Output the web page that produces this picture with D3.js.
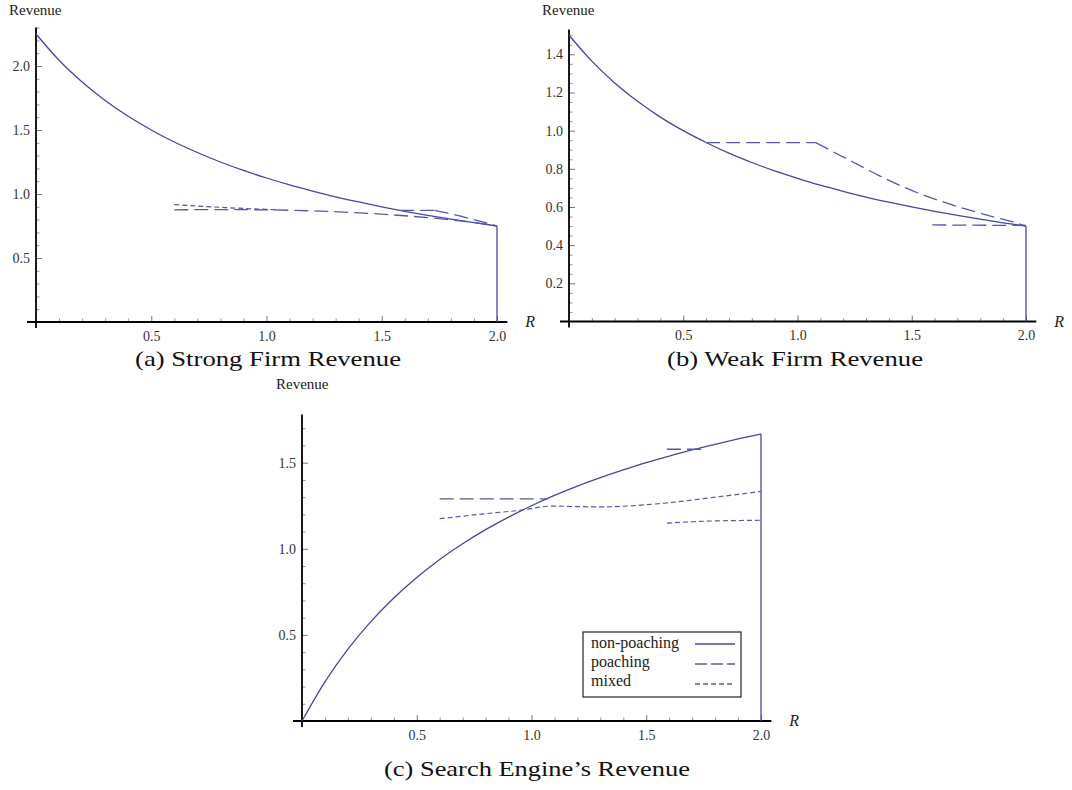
<!DOCTYPE html>
<html>
<head>
<meta charset="utf-8">
<script src="https://cdn.jsdelivr.net/npm/d3@7"></script>
<style>
  body { margin: 0; background: #fff; }
  svg { display: block; }
  text { font-family: "Liberation Serif", "Times New Roman", serif; }
</style>
</head>
<body>
<svg id="fig" width="1072" height="790"></svg>
<script>
// ---- values ----------------------------------------------------------
// R grid for the non-poaching equilibrium curves
const rGrid = [0, 0.1, 0.2, 0.3, 0.4, 0.5, 0.6, 0.7, 0.8, 0.9, 1.0,
               1.1, 1.2, 1.3, 1.4, 1.5, 1.6, 1.7, 1.8, 1.9, 2.0];

// (a) strong firm
const strongNonPoaching = [2.250, 2.045, 1.875, 1.731, 1.607, 1.500, 1.406, 1.324, 1.250, 1.184, 1.125,
                           1.071, 1.023, 0.978, 0.938, 0.900, 0.865, 0.833, 0.804, 0.776, 0.750];
const strongPoachingLow = [[0.6, 0.876], [0.8, 0.878], [1.0, 0.876], [1.2, 0.868], [1.4, 0.853],
                           [1.6, 0.830], [1.8, 0.798], [1.9, 0.778], [2.0, 0.750]];
const strongPoachingFlat = [[1.58, 0.872], [1.73, 0.872]];
const strongPoachingFall = [[1.73, 0.872], [1.8, 0.845], [1.9, 0.800], [2.0, 0.750]];
const strongMixed = [[0.6, 0.917], [0.7, 0.906], [0.8, 0.896], [0.9, 0.887], [1.0, 0.880], [1.05, 0.877]];

// (b) weak firm
const weakNonPoaching = [1.500, 1.364, 1.250, 1.154, 1.071, 1.000, 0.938, 0.882, 0.833, 0.789, 0.750,
                         0.714, 0.682, 0.652, 0.625, 0.600, 0.577, 0.556, 0.536, 0.517, 0.500];
const weakPoachingFlat = [[0.6, 0.937], [1.08, 0.937]];
const weakPoachingFall = [[1.08, 0.937], [1.24, 0.837], [1.39, 0.745], [1.53, 0.672],
                          [1.68, 0.610], [1.83, 0.557], [1.98, 0.508], [2.0, 0.500]];
const weakPoachingLow = [[1.59, 0.506], [2.0, 0.503]];

// (c) search engine
const engineNonPoaching = [0.000, 0.227, 0.417, 0.577, 0.714, 0.833, 0.938, 1.029, 1.111, 1.184, 1.250,
                           1.310, 1.364, 1.413, 1.458, 1.500, 1.538, 1.574, 1.607, 1.638, 1.667];
const enginePoachingFlat = [[0.6, 1.29], [1.07, 1.29]];
const enginePoachingHigh = [[1.59, 1.578], [1.74, 1.578]];
const engineMixed = [[0.6, 1.175], [0.8, 1.204], [1.0, 1.233], [1.05, 1.245], [1.1, 1.248],
                     [1.2, 1.245], [1.3, 1.243], [1.4, 1.247], [1.5, 1.256], [1.6, 1.268],
                     [1.7, 1.283], [1.8, 1.300], [1.9, 1.316], [2.0, 1.333]];
const engineMixedLow = [[1.59, 1.149], [1.7, 1.157], [1.8, 1.162], [1.9, 1.164], [2.0, 1.166]];

// tick values
const xMajorTicks = [0.5, 1.0, 1.5, 2.0];
const yMajorTicksA = [0.5, 1.0, 1.5, 2.0];
const yMajorTicksB = [0.2, 0.4, 0.6, 0.8, 1.0, 1.2, 1.4];
const yMajorTicksC = [0.5, 1.0, 1.5];

const legendLabels = ["non-poaching", "poaching", "mixed"];
const captions = ["(a) Strong Firm Revenue", "(b) Weak Firm Revenue", "(c) Search Engine\u2019s Revenue"];

// ---- styles ----------------------------------------------------------
const LINE = "#4646a0";
const DASH_LINE = "#5656ac";
const STYLE = {
  solid:    { stroke: LINE, width: 1.3, dash: null },
  poaching: { stroke: DASH_LINE, width: 1.3, dash: "14,6" },
  mixed:    { stroke: DASH_LINE, width: 1.2, dash: "5,3" }
};

const svg = d3.select("#fig");

function range(a, b, step) {
  const out = [];
  for (let v = a; v <= b + 1e-9; v += step) out.push(Math.round(v * 1000) / 1000);
  return out;
}

function makePanel(cfg) {
  const x = d3.scaleLinear().domain([0, 2]).range([cfg.x0, cfg.x2]);
  const y = d3.scaleLinear().domain([0, cfg.yRef]).range([cfg.yBase, cfg.yRefPx]);
  const g = svg.append("g");

  // minor ticks (unlabelled), pointing into the plot
  const xMinor = range(0.1, 2.0, 0.1).filter(v => !xMajorTicks.some(m => Math.abs(m - v) < 1e-6));
  g.append("g").attr("transform", `translate(0,${cfg.yBase})`)
    .call(d3.axisBottom(x).tickValues(xMinor).tickSize(-3.5).tickFormat(""))
    .call(s => s.select(".domain").remove())
    .call(s => s.selectAll("line").attr("stroke", "#777").attr("stroke-width", 0.8));
  g.append("g").attr("transform", `translate(0,${cfg.yBase})`)
    .call(d3.axisBottom(x).tickValues(xMajorTicks).tickSize(-6).tickPadding(9).tickFormat(d3.format(".1f")))
    .call(s => s.select(".domain").remove())
    .call(s => s.selectAll("line").attr("stroke", "#666").attr("stroke-width", 0.9))
    .call(s => s.selectAll("text").attr("font-size", 14).attr("fill", "#333"));

  const yMinor = range(cfg.yMinorStep, cfg.yTop, cfg.yMinorStep).filter(v => !cfg.yMajor.some(m => Math.abs(m - v) < 1e-6));
  g.append("g").attr("transform", `translate(${cfg.x0},0)`)
    .call(d3.axisLeft(y).tickValues(yMinor).tickSize(-3.5).tickFormat(""))
    .call(s => s.select(".domain").remove())
    .call(s => s.selectAll("line").attr("stroke", "#777").attr("stroke-width", 0.8));
  g.append("g").attr("transform", `translate(${cfg.x0},0)`)
    .call(d3.axisLeft(y).tickValues(cfg.yMajor).tickSize(-6).tickPadding(6).tickFormat(d3.format(".1f")))
    .call(s => s.select(".domain").remove())
    .call(s => s.selectAll("line").attr("stroke", "#666").attr("stroke-width", 0.9))
    .call(s => s.selectAll("text").attr("font-size", 14).attr("fill", "#333"));

  // axis lines
  g.append("line").attr("x1", cfg.x0 - 9).attr("x2", x(2.045))
    .attr("y1", cfg.yBase).attr("y2", cfg.yBase).attr("stroke", "#000").attr("stroke-width", 1.8);
  g.append("line").attr("x1", cfg.x0).attr("x2", cfg.x0)
    .attr("y1", y(cfg.yTop)).attr("y2", cfg.yBase + 6).attr("stroke", "#000").attr("stroke-width", 1.8);

  // axis names
  g.append("text").attr("x", cfg.revX).attr("y", cfg.revY).attr("font-size", 15).attr("fill", "#222")
    .text("Revenue");
  g.append("text").attr("x", x(2.045) + 18).attr("y", cfg.yBase + 5).attr("font-size", 16)
    .attr("font-style", "italic").attr("fill", "#222").text("R");

  // caption
  g.append("text").attr("x", cfg.capX).attr("y", cfg.capY).attr("text-anchor", "middle")
    .attr("font-size", 22).attr("fill", "#111")
    .attr("textLength", cfg.capW).attr("lengthAdjust", "spacingAndGlyphs")
    .text(cfg.caption);

  return { g, x, y };
}

function drawSeries(p, pts, style) {
  const line = d3.line().x(d => p.x(d[0])).y(d => p.y(d[1])).curve(d3.curveMonotoneX);
  const path = p.g.append("path").attr("d", line(pts)).attr("fill", "none")
    .attr("stroke", style.stroke).attr("stroke-width", style.width);
  if (style.dash) path.attr("stroke-dasharray", style.dash);
}

function drawNonPoaching(p, values) {
  const pts = rGrid.map((r, i) => [r, values[i]]);
  drawSeries(p, pts, STYLE.solid);
  // the curve ends at R = 2 and drops to zero
  const last = pts[pts.length - 1];
  const drop = d3.line().x(d => p.x(d[0])).y(d => p.y(d[1]));
  p.g.append("path").attr("d", drop([last, [last[0], 0]])).attr("fill", "none")
    .attr("stroke", LINE).attr("stroke-width", 1.3);
}

// ---- panel (a) ----
const pa = makePanel({
  x0: 36, x2: 497, yBase: 322, yRef: 2.0, yRefPx: 66, yTop: 2.3, yMinorStep: 0.1,
  yMajor: yMajorTicksA, revX: 9, revY: 15, capX: 268, capY: 366, capW: 266, caption: captions[0]
});
drawNonPoaching(pa, strongNonPoaching);
drawSeries(pa, strongPoachingLow, STYLE.poaching);
drawSeries(pa, strongPoachingFlat, STYLE.poaching);
drawSeries(pa, strongPoachingFall, STYLE.poaching);
drawSeries(pa, strongMixed, STYLE.mixed);

// ---- panel (b) ----
const pb = makePanel({
  x0: 569, x2: 1026, yBase: 321.5, yRef: 1.4, yRefPx: 54.3, yTop: 1.53, yMinorStep: 0.05,
  yMajor: yMajorTicksB, revX: 542, revY: 15, capX: 795, capY: 366, capW: 256, caption: captions[1]
});
drawNonPoaching(pb, weakNonPoaching);
drawSeries(pb, weakPoachingFlat, STYLE.poaching);
drawSeries(pb, weakPoachingFall, STYLE.poaching);
drawSeries(pb, weakPoachingLow, STYLE.poaching);

// ---- panel (c) ----
const pc = makePanel({
  x0: 302, x2: 761, yBase: 721, yRef: 1.5, yRefPx: 462.7, yTop: 1.78, yMinorStep: 0.1,
  yMajor: yMajorTicksC, revX: 276, revY: 389, capX: 537, capY: 776, capW: 306, caption: captions[2]
});
drawNonPoaching(pc, engineNonPoaching);
drawSeries(pc, enginePoachingFlat, STYLE.poaching);
drawSeries(pc, enginePoachingHigh, STYLE.poaching);
drawSeries(pc, engineMixed, STYLE.mixed);
drawSeries(pc, engineMixedLow, STYLE.mixed);

// ---- legend (c) ----
const legend = svg.append("g").attr("transform", "translate(583,632)");
legend.append("rect").attr("width", 158).attr("height", 65)
  .attr("fill", "#fff").attr("stroke", "#333").attr("stroke-width", 1.3);
const legendStyles = [STYLE.solid, STYLE.poaching, STYLE.mixed];
legendLabels.forEach((lab, i) => {
  legend.append("text").attr("x", 8).attr("y", 16 + i * 19).attr("font-size", 16)
    .attr("fill", "#222").text(lab);
  const st = legendStyles[i];
  const ln = legend.append("line").attr("x1", 112).attr("x2", 152)
    .attr("y1", 12 + i * 20).attr("y2", 12 + i * 20)
    .attr("stroke", st.stroke).attr("stroke-width", st.width + 0.4);
  if (st.dash) ln.attr("stroke-dasharray", i === 1 ? "12,4" : "5,3");
});
</script>
</body>
</html>
